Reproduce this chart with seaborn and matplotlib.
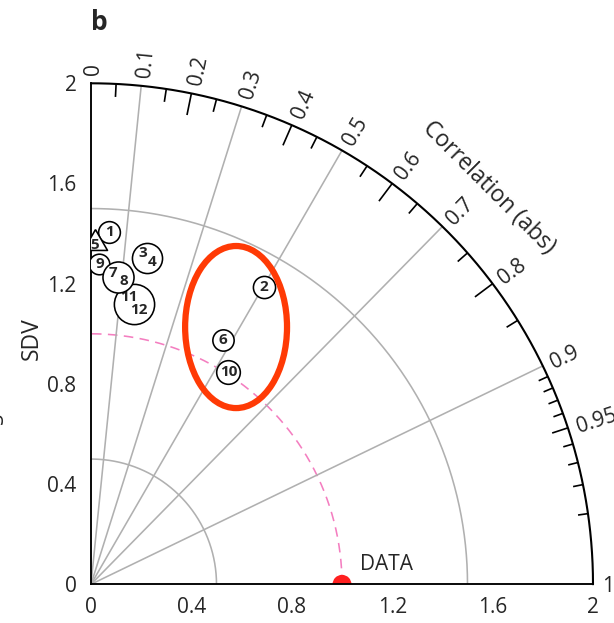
import numpy as np
import pandas as pd
import matplotlib
matplotlib.use("Agg")
import matplotlib.pyplot as plt
import seaborn as sns
from matplotlib.patches import Ellipse
from matplotlib.path import Path

# ---------------- data ----------------
models = ["1", "2", "3", "4", "5", "6", "7", "8", "9", "10", "11", "12"]
model_sd = [1.407, 1.372, 1.337, 1.308, 1.364, 1.107, 1.247, 1.218, 1.281, 1.010, 1.156, 1.112]
model_corr = [0.052, 0.502, 0.154, 0.185, 0.012, 0.474, 0.071, 0.106, 0.026, 0.542, 0.132, 0.173]
circle_groups = [["1"], ["9"], ["3", "4"], ["11", "12"], ["7", "8"], ["2"], ["6"], ["10"]]
triangle_models = ["5"]
ref_sd = 1.0
ref_name = "DATA"

sd_major = [0, 0.4, 0.8, 1.2, 1.6, 2.0]
sd_major_labels = ["0", "0.4", "0.8", "1.2", "1.6", "2"]
sd_minor = [0.2, 0.6, 1.0, 1.4, 1.8]
corr_label_vals = [0, 0.1, 0.2, 0.3, 0.4, 0.5, 0.6, 0.7, 0.8, 0.9, 0.95, 1.0]
corr_label_text = ["0", "0.1", "0.2", "0.3", "0.4", "0.5", "0.6", "0.7", "0.8", "0.9", "0.95", "1"]
corr_grid = [0.1, 0.3, 0.5, 0.7, 0.9]
corr_long_ticks = [0.2, 0.4, 0.6, 0.8]
corr_short_ticks = [0.05, 0.15, 0.25, 0.35, 0.45, 0.55, 0.65, 0.75, 0.85]
corr_fine_ticks = [0.91, 0.92, 0.93, 0.94, 0.96, 0.97, 0.98, 0.99]
corr_fine_long = [0.95]
sd_arcs = [0.5, 1.5]
sd_max = 2.0

# ---------------- style ----------------
circle_size = {"1": 245, "9": 220, "3 4": 470, "11 12": 840, "7 8": 500,
               "2": 255, "6": 235, "10": 290}
FS = 15
FS_TITLE = 16.5
GREY = "#b0b0b0"
PINK = "#f47ec0"

sns.set_style("white")
plt.rcParams["font.family"] = ["Open Sans", "DejaVu Sans"]

df = pd.DataFrame({"model": models, "sd": model_sd, "corr": model_corr})
df["x"] = df["sd"] * df["corr"]
df["y"] = df["sd"] * np.sqrt(1 - df["corr"] ** 2)
pos = df.set_index("model")

fig = plt.figure(figsize=(6.14, 6.23), dpi=100)
ax = fig.add_axes([91 / 614, (623 - 584.3) / 623, 502 / 614, 501 / 623])
ax.set_xlim(0, sd_max)
ax.set_ylim(0, sd_max)

for s in ["top", "right"]:
    ax.spines[s].set_visible(False)
for s in ["left", "bottom"]:
    ax.spines[s].set_linewidth(1.35)
    ax.spines[s].set_color("black")
    ax.spines[s].set_zorder(3)

ax.set_xticks(sd_major)
ax.set_xticklabels(sd_major_labels)
ax.set_yticks(sd_major)
ax.set_yticklabels(sd_major_labels)
ax.set_xticks(sd_minor, minor=True)
ax.set_yticks(sd_minor, minor=True)
ax.tick_params(axis="x", which="both", direction="out", length=5.5, width=1.2,
               labelsize=FS, pad=4, color="black")
ax.tick_params(axis="y", which="both", direction="out", length=6.5, width=1.2,
               labelsize=FS, pad=4, color="black")

# SD arcs
t = np.linspace(0, np.pi / 2, 300)
for r in sd_arcs:
    arc = pd.DataFrame({"x": r * np.cos(t), "y": r * np.sin(t)})
    sns.lineplot(data=arc, x="x", y="y", sort=False, estimator=None, ax=ax,
                 color=GREY, lw=1.15, zorder=1)
refarc = pd.DataFrame({"x": ref_sd * np.cos(t), "y": ref_sd * np.sin(t)})
sns.lineplot(data=refarc, x="x", y="y", sort=False, estimator=None, ax=ax,
             color=PINK, lw=1.15, linestyle=(0, (6, 4)), zorder=1)
outer = pd.DataFrame({"x": sd_max * np.cos(t), "y": sd_max * np.sin(t)})
sns.lineplot(data=outer, x="x", y="y", sort=False, estimator=None, ax=ax,
             color="black", lw=1.5, zorder=3, clip_on=False)

# correlation grid lines
for c in corr_grid:
    th = np.arccos(c)
    ax.plot([0, sd_max * np.cos(th)], [0, sd_max * np.sin(th)], color=GREY, lw=1.15, zorder=1)

# correlation ticks (inward)
def arc_ticks(vals, length):
    for c in vals:
        th = np.arccos(c)
        ax.plot([sd_max * np.cos(th), (sd_max - length) * np.cos(th)],
                [sd_max * np.sin(th), (sd_max - length) * np.sin(th)],
                color="black", lw=1.2, zorder=3, clip_on=False, solid_capstyle="butt")

arc_ticks(corr_long_ticks, 0.088)
arc_ticks(corr_short_ticks, 0.052)
arc_ticks(corr_fine_ticks, 0.04)
arc_ticks(corr_fine_long, 0.066)

# correlation labels
for c, lab in zip(corr_label_vals, corr_label_text):
    th = np.arccos(c)
    r = 2.035
    ax.text(r * np.cos(th), r * np.sin(th), lab, rotation=np.degrees(th),
            rotation_mode="anchor", ha="left", va="center_baseline",
            fontsize=FS, clip_on=False)

ax.text(2.24 * np.cos(np.pi / 4), 2.24 * np.sin(np.pi / 4), "Correlation (abs)",
        rotation=-45, rotation_mode="anchor", ha="center", va="center",
        fontsize=FS_TITLE, clip_on=False)
ax.text(-0.235, 0.98, "SDV", rotation=90, ha="center", va="center",
        fontsize=FS_TITLE, clip_on=False)

# reference point
sns.scatterplot(x=[ref_sd], y=[0.0], ax=ax, s=185, color="#ff2020",
                edgecolor="none", zorder=2)
ax.text(ref_sd + 0.177, 0.081, ref_name, ha="center", va="center", fontsize=FS)

# model markers
z = 5
for grp in circle_groups:
    key = " ".join(grp)
    cx = pos.loc[grp, "x"].mean()
    cy = pos.loc[grp, "y"].mean()
    sns.scatterplot(x=[cx], y=[cy], ax=ax, s=circle_size[key], facecolor="white",
                    edgecolor="black", linewidth=1.15, zorder=z)
    for m in grp:
        ax.text(pos.loc[m, "x"], pos.loc[m, "y"], m, ha="center", va="center",
                fontsize=11, fontweight="bold", zorder=z + 1)
    z += 2
    if grp == ["1"]:
        tri = Path([(0, 1), (-0.866, -0.5), (0.866, -0.5), (0, 1)])
        for m in triangle_models:
            sns.scatterplot(x=[pos.loc[m, "x"]], y=[pos.loc[m, "y"]], ax=ax, s=400,
                            marker=tri, facecolor="white", edgecolor="black",
                            linewidth=1.15, zorder=z)
            ax.text(pos.loc[m, "x"], pos.loc[m, "y"] - 0.01, m, ha="center", va="center",
                    fontsize=11, fontweight="bold", zorder=z + 1)
        z += 2

# highlight ellipse
ax.add_patch(Ellipse((0.578, 1.027), 0.406, 0.647, fill=False, edgecolor="#ff3a05",
                     lw=4.5, zorder=40))

ax.set_xlabel("")
ax.set_ylabel("")
if ax.get_legend() is not None:
    ax.get_legend().remove()

fig.text(99 / 614, 1 - 22 / 623, "b", ha="center", va="center", fontsize=19,
         fontweight="bold")
# remnants of neighbouring panel at the left edge
fig.text(-2.5 / 614, 1 - 418 / 623, "S", rotation=90, ha="center", va="center", fontsize=FS)
fig.text(2.5 / 614, 1 - 584 / 623, "1", ha="right", va="center_baseline", fontsize=FS)

fig.savefig("out.png", dpi=100)
